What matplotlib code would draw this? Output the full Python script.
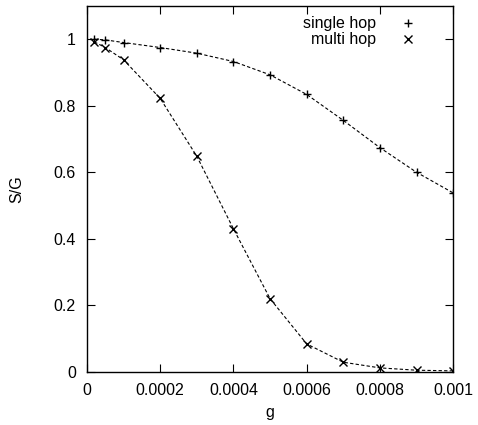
import matplotlib
matplotlib.use("Agg")
import matplotlib.pyplot as plt

g = [0.00002, 0.00005, 0.0001, 0.0002, 0.0003, 0.0004, 0.0005, 0.0006, 0.0007, 0.0008, 0.0009, 0.001]
single_hop = [1.0, 0.998, 0.990, 0.975, 0.958, 0.933, 0.893, 0.834, 0.756, 0.674, 0.600, 0.538]
multi_hop = [0.992, 0.975, 0.938, 0.822, 0.648, 0.430, 0.220, 0.084, 0.029, 0.012, 0.005, 0.003]
xticks = [0, 0.0002, 0.0004, 0.0006, 0.0008, 0.001]
xticklabels = ["0", "0.0002", "0.0004", "0.0006", "0.0008", "0.001"]
yticks = [0, 0.2, 0.4, 0.6, 0.8, 1]
yticklabels = ["0", "0.2", "0.4", "0.6", "0.8", "1"]

plt.rcParams['font.family'] = ['Liberation Sans', 'DejaVu Sans']
fig = plt.figure(figsize=(4.78, 4.25), dpi=100)
ax = fig.add_axes([0.182, 0.125, 0.766, 0.861])

ax.plot(g, single_hop, '--', color='black', lw=0.8, dashes=(3, 2))
ax.plot(g, multi_hop, '--', color='black', lw=0.8, dashes=(3, 2))
ax.plot(g, single_hop, '+', color='black', ms=6, mew=1, ls='none', label='single hop')
ax.plot(g, multi_hop, 'x', color='black', ms=5.5, mew=1, ls='none', label='multi hop')

ax.set_xlim(0, 0.001)
ax.set_ylim(0, 1.1)
ax.set_xticks(xticks)
ax.set_xticklabels(xticklabels)
ax.set_yticks(yticks)
ax.set_yticklabels(yticklabels)
ax.tick_params(direction='in', top=True, right=True, length=6, width=0.8, labelsize=11.5, pad=8)
for s in ax.spines.values():
    s.set_linewidth(1)
ax.set_xlabel('g', fontsize=11.5, labelpad=5)
ax.set_ylabel('S/G', fontsize=11.5, labelpad=21)

ax.legend(loc='upper right', frameon=False, markerfirst=False, fontsize=11.5,
          handlelength=1.2, handletextpad=1.4, borderaxespad=0.25, labelspacing=0.05,
          bbox_to_anchor=(0.93, 1.0))

fig.savefig('out.png', dpi=100)
